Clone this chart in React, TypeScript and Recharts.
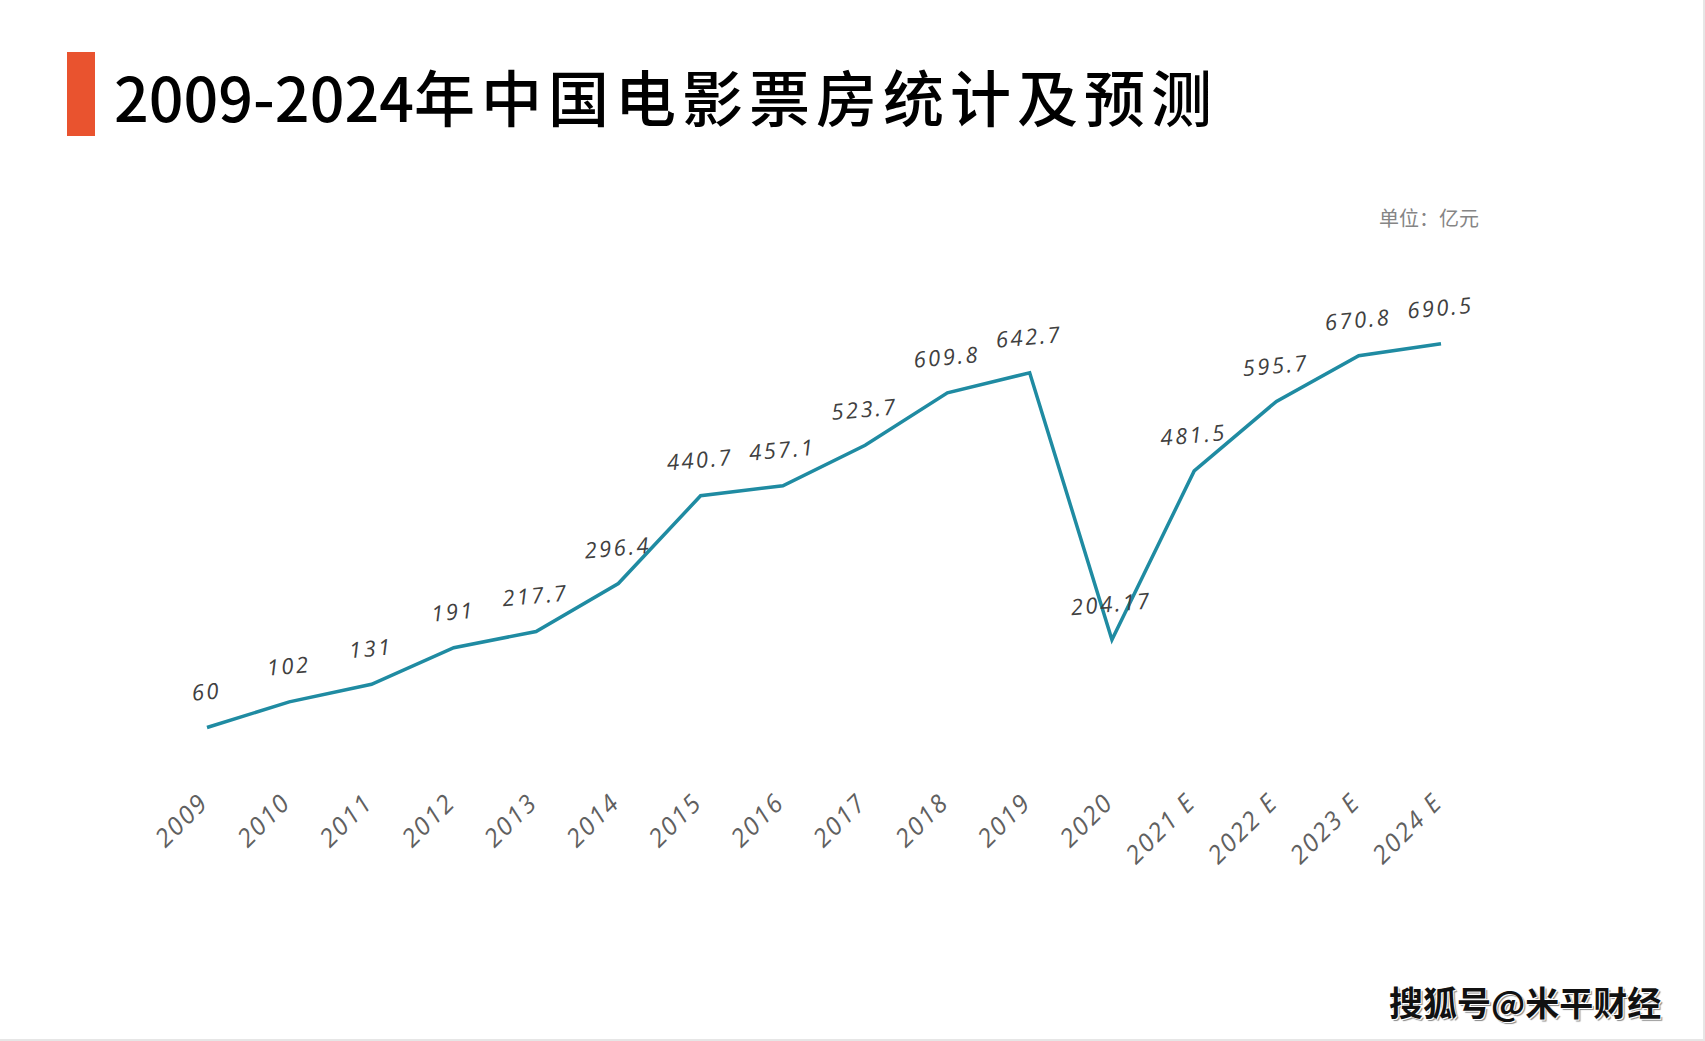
import React from "react";
import { LineChart, Line, XAxis, YAxis, LabelList } from "recharts";

const years = ["2009", "2010", "2011", "2012", "2013", "2014", "2015", "2016", "2017", "2018", "2019", "2020", "2021 E", "2022 E", "2023 E", "2024 E"];
const boxOffice = [60, 102, 131, 191, 217.7, 296.4, 440.7, 457.1, 523.7, 609.8, 642.7, 204.17, 481.5, 595.7, 670.8, 690.5];
const valueLabels = ["60", "102", "131", "191", "217.7", "296.4", "440.7", "457.1", "523.7", "609.8", "642.7", "204.17", "481.5", "595.7", "670.8", "690.5"];

const data = years.map((y, i) => ({ year: y, value: boxOffice[i], label: valueLabels[i] }));

const W = 1705;
const H = 1041;
const LINE_COLOR = "#1f8ba2";
const HAND_FONT = "'Open Sans', 'DejaVu Sans', sans-serif";

const XTick = (props: any) => {
  const { x, y, payload } = props;
  return (
    <text
      x={0}
      y={0}
      transform={`translate(${x + 3},${y + 40}) rotate(-45)`}
      textAnchor="end"
      fill="#606060"
      fontSize={25}
      fontFamily={HAND_FONT}
      fontStyle="italic"
      letterSpacing={2}
    >
      {payload.value}
    </text>
  );
};

const ValueLabel = (props: any) => {
  const { x, y, index } = props;
  return (
    <text
      x={0}
      y={0}
      transform={`translate(${x},${y - 28}) rotate(-5)`}
      textAnchor="middle"
      fill="#404040"
      fontSize={22}
      fontFamily={HAND_FONT}
      fontStyle="italic"
      letterSpacing={2.5}
    >
      {valueLabels[index]}
    </text>
  );
};

export default function App() {
  return (
    <div style={{ position: "absolute", left: 0, top: 0, width: W, height: H, background: "#fff", overflow: "hidden" }}>
      <LineChart
        width={W}
        height={H}
        data={data}
        margin={{ top: 277, right: 264, bottom: 247, left: 207 }}
      >
        <XAxis
          dataKey="year"
          scale="point"
          height={30}
          padding={{ left: 0, right: 0 }}
          axisLine={false}
          tickLine={false}
          tickSize={0}
          tickMargin={0}
          interval={0}
          tick={<XTick />}
        />
        <YAxis hide domain={[0, 800]} />
        <Line
          type="linear"
          dataKey="value"
          stroke={LINE_COLOR}
          strokeWidth={3.5}
          dot={false}
          activeDot={false}
          isAnimationActive={false}
        >
          <LabelList dataKey="label" content={<ValueLabel />} />
        </Line>
      </LineChart>
      <div style={{ position: "absolute", left: 67, top: 52, width: 28, height: 84, background: "#e9532f" }} />
      <div
        style={{
          position: "absolute",
          left: 114,
          top: 48,
          fontFamily: "'Noto Sans CJK SC', sans-serif",
          fontSize: 61,
          fontWeight: 500,
          lineHeight: "96px",
          color: "#000",
          whiteSpace: "nowrap",
        }}
      >
        <span>2009-2024</span>
        <span style={{ letterSpacing: 6 }}>年中国电影票房统计及预测</span>
      </div>
      <div
        style={{
          position: "absolute",
          left: 1379,
          top: 205,
          fontFamily: "'Noto Sans CJK SC', sans-serif",
          fontSize: 20,
          lineHeight: "26px",
          color: "#858585",
          whiteSpace: "nowrap",
        }}
      >
        单位：亿元
      </div>
      <div
        style={{
          position: "absolute",
          left: 1389,
          top: 979,
          fontFamily: "'Noto Sans CJK SC', sans-serif",
          fontSize: 34,
          fontWeight: 700,
          lineHeight: "46px",
          color: "#111",
          textShadow: "1px 1px 0 #fff, -1px -1px 0 #fff, 2px 2px 1px #888",
          whiteSpace: "nowrap",
        }}
      >
        搜狐号@米平财经
      </div>
      <div style={{ position: "absolute", right: 0, top: 0, width: 2, height: H, background: "#e6e6e6" }} />
      <div style={{ position: "absolute", left: 0, bottom: 0, width: W, height: 2, background: "#e6e6e6" }} />
    </div>
  );
}
